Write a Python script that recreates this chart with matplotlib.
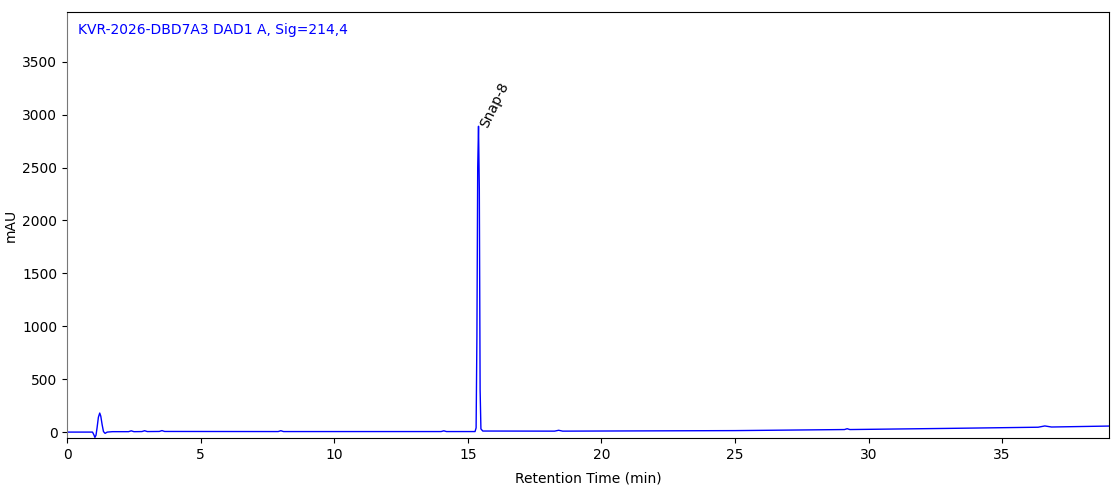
import numpy as np
import matplotlib.pyplot as plt

# trace (time in min, signal in mAU)
times = [0.0, 0.95, 1.0, 1.04, 1.08, 1.12, 1.17, 1.22, 1.26, 1.31, 1.36, 1.42, 1.5, 1.7,
         2.3, 2.4, 2.5, 2.8, 2.9, 3.0, 3.45, 3.55, 3.65, 7.9, 8.0, 8.1,
         14.0, 14.1, 14.2, 15.27, 15.31, 15.34, 15.37, 15.4, 15.43, 15.46, 15.49, 15.56,
         18.25, 18.4, 18.55, 25.0, 29.1, 29.2, 29.3, 33.0, 36.35, 36.6, 36.85, 39.0]
signal = [0, 0, -25, -50, -30, 40, 140, 180, 150, 70, 5, -12, 0, 4,
          4, 12, 4, 5, 13, 5, 6, 14, 6, 5, 13, 5,
          5, 12, 5, 5, 40, 900, 2500, 2890, 2300, 400, 30, 10,
          9, 17, 9, 14, 24, 32, 24, 35, 46, 58, 48, 57]

peak_name = "Snap-8"
peak_time = 15.41
peak_height = 2890
title = "KVR-2026-DBD7A3 DAD1 A, Sig=214,4"

fig = plt.figure(figsize=(11.19, 4.99), dpi=100)
ax = fig.add_axes([0.06, 0.122, 0.931, 0.854])

ax.plot(times, signal, color="#0000ff", lw=1.0)

ax.annotate(peak_name, xy=(peak_time, peak_height), xytext=(8, -3),
            textcoords="offset points", rotation=64, rotation_mode="anchor",
            fontsize=10, ha="left", va="bottom")

ax.text(0.01, 0.975, title, transform=ax.transAxes, color="#0000ff",
        fontsize=10, ha="left", va="top")

ax.set_xlim(0, 39)
ax.set_ylim(-57, 3970)
ax.set_xticks(np.arange(0, 40, 5))
ax.set_yticks(np.arange(0, 3501, 500))
ax.tick_params(labelsize=10)
ax.set_xlabel("Retention Time (min)", fontsize=10, labelpad=7)
ax.set_ylabel("mAU", fontsize=10)
ax.yaxis.set_label_coords(-0.047, 0.5)
ax.spines["left"].set_color("#777777")

fig.savefig("out.png", dpi=100)
